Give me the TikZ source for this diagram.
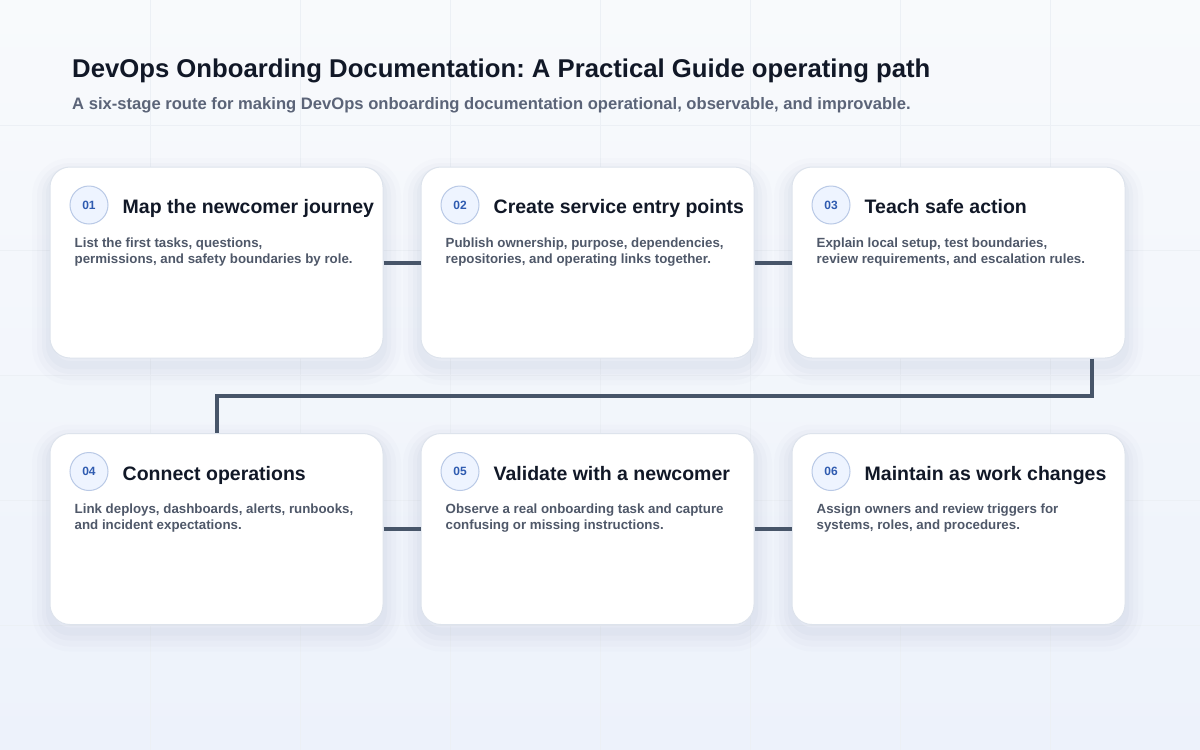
\documentclass[tikz,border=0pt]{standalone}
\usepackage{fontspec}
\setmainfont{Liberation Sans}
\usepackage{xcolor}
\usepackage{tikz}
\usetikzlibrary{positioning}
\frenchspacing

\definecolor{ink}{HTML}{111827}
\definecolor{subink}{HTML}{5B6478}
\definecolor{bodyink}{HTML}{4F5869}
\definecolor{numink}{HTML}{2F5BB0}
\definecolor{edge}{HTML}{DDE3EC}
\definecolor{badgefill}{HTML}{EEF4FF}
\definecolor{badgeline}{HTML}{B9C9E6}
\definecolor{wire}{HTML}{475569}
\definecolor{gridline}{HTML}{ECF0F5}
\definecolor{bgtop}{HTML}{F8FAFC}
\definecolor{bgbottom}{HTML}{EDF2FB}
\definecolor{shadowc}{HTML}{7A88A8}

\tikzset{
  card/.style={draw=edge, line width=1pt, fill=white, rounded corners=20pt,
    minimum width=333pt, minimum height=191pt, inner sep=0pt,
    preaction={draw=shadowc, draw opacity=0.02, line width=36pt, transform canvas={yshift=-9pt}},
    preaction={draw=shadowc, draw opacity=0.03, line width=26pt, transform canvas={yshift=-9pt}},
    preaction={draw=shadowc, draw opacity=0.035, line width=16pt, transform canvas={yshift=-8pt}},
    preaction={draw=shadowc, draw opacity=0.04, line width=8pt, transform canvas={yshift=-7pt}}},
  badge/.style={draw=badgeline, line width=1pt, fill=badgefill, circle,
    minimum size=38pt, inner sep=0pt, text=numink,
    font=\fontsize{12}{14}\selectfont\bfseries},
  cardtitle/.style={anchor=base west, inner sep=0pt, text=ink,
    font=\fontsize{19.5}{23}\selectfont\bfseries},
  carddesc/.style={anchor=north west, inner sep=0pt, align=left, text=bodyink,
    font=\fontsize{13.3}{16}\selectfont\bfseries},
  wirestyle/.style={draw=wire, line width=4pt}
}

\begin{document}
\begin{tikzpicture}[x=1pt, y=-1pt]
            \useasboundingbox (0,0) rectangle (1200,750);

            % Background
            \shade [top color=bgtop, bottom color=bgbottom] (0,0) rectangle (1200,750);
            \foreach \gx in {150,300,...,1050} \draw [gridline, line width=0.8pt] (\gx,0) -- (\gx,750);
            \foreach \gy in {125,250,...,625} \draw [gridline, line width=0.8pt] (0,\gy) -- (1200,\gy);

            % Heading
            \node (title) [anchor=base west, inner sep=0pt, text=ink, font=\fontsize{25.7}{30}\selectfont\bfseries]
              at (72,77) {DevOps Onboarding Documentation: A Practical Guide operating path};
            \node (subtitle) [anchor=base west, inner sep=0pt, text=subink, font=\fontsize{16.6}{20}\selectfont\bfseries]
              at (72,109) {A six-stage route for making DevOps onboarding documentation operational, observable, and improvable.};

            % Cards
            \node (C1) [card] at (216.5,262.5) {};
            \node (C2) [card] at (587.5,262.5) {};
            \node (C3) [card] at (958.5,262.5) {};
            \node (C4) [card] at (216.5,529) {};
            \node (C5) [card] at (587.5,529) {};
            \node (C6) [card] at (958.5,529) {};

            % Connectors
            \draw [wirestyle] (C1) -- (C2);
            \draw [wirestyle] (C2) -- (C3);
            \draw [wirestyle] ([xshift=133pt]C3.south) -- ++(0,37) -| (C4.north);
            \draw [wirestyle] (C4) -- (C5);
            \draw [wirestyle] (C5) -- (C6);

            % Card contents
            \node (B1) [badge] at ([shift={(39.5,38.5)}]C1.north west) {01};
            \node (T1) [cardtitle] at ([shift={(73,47)}]C1.north west) {Map the newcomer journey};
            \node (D1) [carddesc] at ([shift={(25,71)}]C1.north west) {List the first tasks, questions,\\permissions, and safety boundaries by role.};

            \node (B2) [badge] at ([shift={(39.5,38.5)}]C2.north west) {02};
            \node (T2) [cardtitle] at ([shift={(73,47)}]C2.north west) {Create service entry points};
            \node (D2) [carddesc] at ([shift={(25,71)}]C2.north west) {Publish ownership, purpose, dependencies,\\repositories, and operating links together.};

            \node (B3) [badge] at ([shift={(39.5,38.5)}]C3.north west) {03};
            \node (T3) [cardtitle] at ([shift={(73,47)}]C3.north west) {Teach safe action};
            \node (D3) [carddesc] at ([shift={(25,71)}]C3.north west) {Explain local setup, test boundaries,\\review requirements, and escalation rules.};

            \node (B4) [badge] at ([shift={(39.5,38.5)}]C4.north west) {04};
            \node (T4) [cardtitle] at ([shift={(73,47)}]C4.north west) {Connect operations};
            \node (D4) [carddesc] at ([shift={(25,71)}]C4.north west) {Link deploys, dashboards, alerts, runbooks,\\and incident expectations.};

            \node (B5) [badge] at ([shift={(39.5,38.5)}]C5.north west) {05};
            \node (T5) [cardtitle] at ([shift={(73,47)}]C5.north west) {Validate with a newcomer};
            \node (D5) [carddesc] at ([shift={(25,71)}]C5.north west) {Observe a real onboarding task and capture\\confusing or missing instructions.};

            \node (B6) [badge] at ([shift={(39.5,38.5)}]C6.north west) {06};
            \node (T6) [cardtitle] at ([shift={(73,47)}]C6.north west) {Maintain as work changes};
            \node (D6) [carddesc] at ([shift={(25,71)}]C6.north west) {Assign owners and review triggers for\\systems, roles, and procedures.};
        \end{tikzpicture}
\end{document}
